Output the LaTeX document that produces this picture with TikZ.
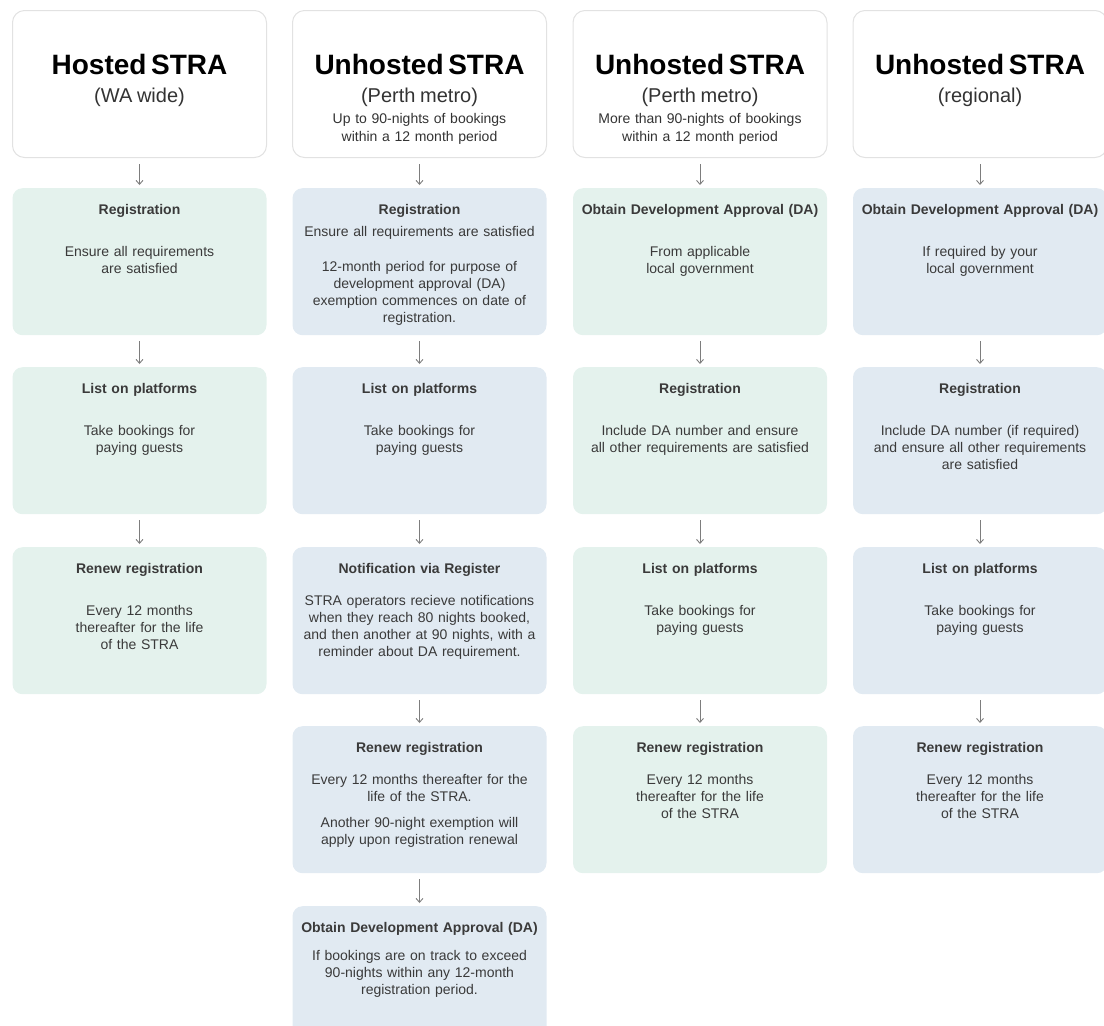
\documentclass[tikz,border=0pt]{standalone}
\usepackage{fontspec}
\setmainfont{Liberation Sans}
\usepackage{xcolor}
\usepackage{tikz}
\usetikzlibrary{arrows.meta}
\definecolor{mintfill}{RGB}{228,242,237}
\definecolor{skyfill}{RGB}{225,234,242}
\definecolor{headline}{RGB}{226,226,226}
\definecolor{bodytext}{RGB}{58,58,58}
\definecolor{arrowgrey}{RGB}{125,125,125}
\lineskiplimit=-50pt

\begin{document}
\begin{tikzpicture}[x=1pt,y=-1pt,
  card/.style={inner sep=0pt,rounded corners=10pt,minimum width=254pt,text width=246pt,
               align=center,anchor=north,text height=26pt,text depth=121pt,
               font=\fontsize{14}{17}\selectfont,text=bodytext},
  mint/.style={card,fill=mintfill},
  sky/.style={card,fill=skyfill},
  head/.style={card,fill=white,draw=headline,line width=1pt,rounded corners=12pt,
               text height=64pt,text depth=83pt,text=black!80},
  arr/.style={-{Straight Barb[length=4pt,width=7pt]},draw=arrowgrey,line width=0.9pt,
              shorten <=6pt,shorten >=3pt}
]
\useasboundingbox (0,0) rectangle (1104,1026);
\clip (0,0) rectangle (1104,1026);

% column headers
\node[head] (hostedHead) at (139.5,10) {{\fontsize{28}{30}\selectfont\bfseries\color{black} Hosted STRA}\\[11pt]
  {\fontsize{20}{22}\selectfont (WA wide)}};
\node[head] (metroHead) at (419.5,10) {{\fontsize{28}{30}\selectfont\bfseries\color{black} Unhosted STRA}\\[11pt]
  {\fontsize{20}{22}\selectfont (Perth metro)}\\[4pt]
  Up to 90-nights of bookings\\[1pt]within a 12 month period};
\node[head] (bigHead) at (700,10) {{\fontsize{28}{30}\selectfont\bfseries\color{black} Unhosted STRA}\\[11pt]
  {\fontsize{20}{22}\selectfont (Perth metro)}\\[4pt]
  More than 90-nights of bookings\\[1pt]within a 12 month period};
\node[head] (regHead) at (980,10) {{\fontsize{28}{30}\selectfont\bfseries\color{black} Unhosted STRA}\\[11pt]
  {\fontsize{20}{22}\selectfont (regional)}};

% hosted, WA wide
\node[mint] (hostedReg) at (139.5,188) {\textbf{Registration}\\[25pt]Ensure all requirements\\are satisfied};
\node[mint] (hostedList) at (139.5,367) {\textbf{List on platforms}\\[25pt]Take bookings for\\paying guests};
\node[mint] (hostedRenew) at (139.5,547) {\textbf{Renew registration}\\[25pt]Every 12 months\\thereafter for the life\\of the STRA};

% unhosted, Perth metro, up to 90 nights
\node[sky] (metroReg) at (419.5,188) {\textbf{Registration}\\[5pt]Ensure all requirements are satisfied\\[18pt]
  12-month period for purpose of\\development approval (DA)\\exemption commences on date of\\registration.};
\node[sky] (metroList) at (419.5,367) {\textbf{List on platforms}\\[25pt]Take bookings for\\paying guests};
\node[sky] (metroNotify) at (419.5,547) {\textbf{Notification via Register}\\[15pt]STRA operators recieve notifications\\
  when they reach 80 nights booked,\\and then another at 90 nights, with a\\reminder about DA requirement.};
\node[sky] (metroRenew) at (419.5,726) {\textbf{Renew registration}\\[15pt]Every 12 months thereafter for the\\life of the STRA.\\[9pt]
  Another 90-night exemption will\\apply upon registration renewal};
\node[sky] (metroDA) at (419.5,906) {\textbf{Obtain Development Approval (DA)}\\[11pt]If bookings are on track to exceed\\
  90-nights within any 12-month\\registration period.};

% unhosted, Perth metro, more than 90 nights
\node[mint] (bigDA) at (700,188) {\textbf{Obtain Development Approval (DA)}\\[25pt]From applicable\\local government};
\node[mint] (bigReg) at (700,367) {\textbf{Registration}\\[25pt]Include DA number and ensure\\all other requirements are satisfied};
\node[mint] (bigList) at (700,547) {\textbf{List on platforms}\\[25pt]Take bookings for\\paying guests};
\node[mint] (bigRenew) at (700,726) {\textbf{Renew registration}\\[15pt]Every 12 months\\thereafter for the life\\of the STRA};

% unhosted, regional
\node[sky] (regDA) at (980,188) {\textbf{Obtain Development Approval (DA)}\\[25pt]If required by your\\local government};
\node[sky] (regReg) at (980,367) {\textbf{Registration}\\[25pt]Include DA number (if required)\\and ensure all other requirements\\are satisfied};
\node[sky] (regList) at (980,547) {\textbf{List on platforms}\\[25pt]Take bookings for\\paying guests};
\node[sky] (regRenew) at (980,726) {\textbf{Renew registration}\\[15pt]Every 12 months\\thereafter for the life\\of the STRA};

\draw[arr] (hostedHead)--(hostedReg);
\draw[arr] (hostedReg)--(hostedList);
\draw[arr] (hostedList)--(hostedRenew);

\draw[arr] (metroHead)--(metroReg);
\draw[arr] (metroReg)--(metroList);
\draw[arr] (metroList)--(metroNotify);
\draw[arr] (metroNotify)--(metroRenew);
\draw[arr] (metroRenew)--(metroDA);

\draw[arr] (bigHead)--(bigDA);
\draw[arr] (bigDA)--(bigReg);
\draw[arr] (bigReg)--(bigList);
\draw[arr] (bigList)--(bigRenew);

\draw[arr] (regHead)--(regDA);
\draw[arr] (regDA)--(regReg);
\draw[arr] (regReg)--(regList);
\draw[arr] (regList)--(regRenew);
\end{tikzpicture}
\end{document}
